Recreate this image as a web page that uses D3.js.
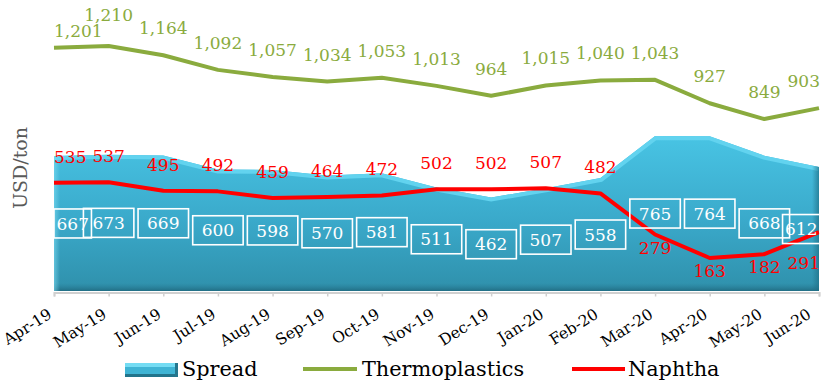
<!DOCTYPE html>
<html>
<head>
<meta charset="utf-8">
<script src="https://cdn.jsdelivr.net/npm/d3@7/dist/d3.min.js"></script>
<style>
  html, body { margin: 0; padding: 0; background: #ffffff; }
  svg { display: block; font-family: "DejaVu Serif", "Liberation Serif", serif; }
</style>
</head>
<body>
<svg id="chart" width="821" height="385"></svg>
<script>
// Monthly categories
const months = ["Apr-19", "May-19", "Jun-19", "Jul-19", "Aug-19", "Sep-19", "Oct-19", "Nov-19",
                "Dec-19", "Jan-20", "Feb-20", "Mar-20", "Apr-20", "May-20", "Jun-20"];
// USD/ton series
const spread = [667, 673, 669, 600, 598, 570, 581, 511, 462, 507, 558, 765, 764, 668, 612];
const thermoplastics = [1201, 1210, 1164, 1092, 1057, 1034, 1053, 1013, 964, 1015, 1040, 1043, 927, 849, 903];
const naphtha = [535, 537, 495, 492, 459, 464, 472, 502, 502, 507, 482, 279, 163, 182, 291];
const yAxisTitle = "USD/ton";
const legendNames = ["Spread", "Thermoplastics", "Naphtha"];

const W = 821, H = 385;
const plot = { left: 54, right: 819, top: 7.5, bottom: 291 };
const green = "#8aab3e", red = "#ff0000";

const svg = d3.select("#chart");
const defs = svg.append("defs");

const x = d3.scalePoint().domain(months).range([plot.left, plot.right]);
const y = d3.scaleLinear().domain([0, 1400]).range([plot.bottom, plot.top]);
const fmt = d3.format(",");

// Gradients for the bevelled spread area
const bodyGrad = defs.append("linearGradient").attr("id", "bodyGrad")
  .attr("x1", 0).attr("y1", 0).attr("x2", 0).attr("y2", 1);
bodyGrad.append("stop").attr("offset", "0%").attr("stop-color", "#48c4e4");
bodyGrad.append("stop").attr("offset", "55%").attr("stop-color", "#3aa9ca");
bodyGrad.append("stop").attr("offset", "100%").attr("stop-color", "#2f90ab");

const bottomGrad = defs.append("linearGradient").attr("id", "bottomGrad")
  .attr("x1", 0).attr("y1", 0).attr("x2", 0).attr("y2", 1);
bottomGrad.append("stop").attr("offset", "0%").attr("stop-color", "#2a8099").attr("stop-opacity", 0);
bottomGrad.append("stop").attr("offset", "100%").attr("stop-color", "#1f6a80").attr("stop-opacity", 0.9);

const rightGrad = defs.append("linearGradient").attr("id", "rightGrad")
  .attr("x1", 0).attr("y1", 0).attr("x2", 1).attr("y2", 0);
rightGrad.append("stop").attr("offset", "0%").attr("stop-color", "#1f6f86").attr("stop-opacity", 0);
rightGrad.append("stop").attr("offset", "100%").attr("stop-color", "#1f6f86").attr("stop-opacity", 0.7);

const leftGrad = defs.append("linearGradient").attr("id", "leftGrad")
  .attr("x1", 0).attr("y1", 0).attr("x2", 1).attr("y2", 0);
leftGrad.append("stop").attr("offset", "0%").attr("stop-color", "#7fdcf2").attr("stop-opacity", 0.6);
leftGrad.append("stop").attr("offset", "100%").attr("stop-color", "#7fdcf2").attr("stop-opacity", 0);

const area = d3.area()
  .x((d, i) => x(months[i]))
  .y0(y(0))
  .y1(d => y(d));

defs.append("clipPath").attr("id", "areaClip")
  .append("path").attr("d", area(spread));

// Spread area with bevel edges
const ag = svg.append("g");
ag.append("path").attr("d", area(spread)).attr("fill", "url(#bodyGrad)");
const bev = ag.append("g").attr("clip-path", "url(#areaClip)");
bev.append("path")
  .attr("d", d3.line().x((d, i) => x(months[i])).y(d => y(d))(spread))
  .attr("fill", "none").attr("stroke", "#62d3ef").attr("stroke-width", 8);
bev.append("rect").attr("x", plot.left).attr("y", y(0) - 8)
  .attr("width", plot.right - plot.left).attr("height", 8).attr("fill", "url(#bottomGrad)");
bev.append("rect").attr("x", plot.left).attr("y", plot.top)
  .attr("width", 6).attr("height", plot.bottom - plot.top).attr("fill", "url(#leftGrad)");
bev.append("rect").attr("x", plot.right - 7).attr("y", plot.top)
  .attr("width", 7).attr("height", plot.bottom - plot.top).attr("fill", "url(#rightGrad)");

// Category axis
const axisG = svg.append("g").attr("transform", `translate(0,${plot.bottom + 1.5})`)
  .call(d3.axisBottom(x).tickSize(4).tickFormat(""));
axisG.select(".domain").attr("stroke", "#d0d0d0").attr("stroke-width", 2);
axisG.selectAll(".tick line").attr("stroke", "#d0d0d0").attr("stroke-width", 1.5);

// Slanted month labels ending just under each tick
svg.append("g").selectAll("text").data(months).join("text")
  .attr("transform", d => `translate(${Math.min(x(d) - 1, W - 9)},${plot.bottom + 26}) rotate(-32)`)
  .attr("text-anchor", "end")
  .attr("font-size", 15.5)
  .attr("fill", "#000")
  .text(d => d);

// Y axis title
svg.append("text")
  .attr("transform", `translate(27,168) rotate(-90)`)
  .attr("text-anchor", "middle")
  .attr("font-size", 19)
  .attr("fill", "#595959")
  .text(yAxisTitle);

// Lines
const line = d3.line().x((d, i) => x(months[i])).y(d => y(d));
svg.append("path").attr("d", line(thermoplastics))
  .attr("fill", "none").attr("stroke", green).attr("stroke-width", 4).attr("stroke-linejoin", "round");
svg.append("path").attr("d", line(naphtha))
  .attr("fill", "none").attr("stroke", red).attr("stroke-width", 4).attr("stroke-linejoin", "round");

// Keep a label of the given width inside the drawing
function clampX(cx, w) {
  return Math.max(plot.left + w / 2, Math.min(W - 1 - w / 2, cx));
}

function boxesOverlap(a, b) {
  return a.x < b.x + b.width && b.x < a.x + a.width && a.y < b.y + b.height && b.y < a.y + a.height;
}

// Spread labels in white boxes at the middle of the area
const sl = svg.append("g");
const spreadBoxes = [];
spread.forEach((v, i) => {
  const cy = y(v / 2);
  const g = sl.append("g");
  const t = g.append("text").attr("font-size", 17).attr("fill", "#ffffff")
    .attr("text-anchor", "middle").attr("dy", "0.36em").attr("y", cy).text(fmt(v));
  const tw = t.node().getComputedTextLength();
  const px = x(months[i]);
  let bw = tw + 18;
  // boxes touching the plot edges are drawn tight around their text
  if (px - bw / 2 < plot.left || px + bw / 2 > W - 1) bw = tw + 5;
  const bh = 29;
  const cx = clampX(px, bw);
  t.attr("x", cx);
  g.insert("rect", "text").attr("x", cx - bw / 2).attr("y", cy - bh / 2)
    .attr("width", bw).attr("height", bh)
    .attr("fill", "none").attr("stroke", "#ffffff").attr("stroke-width", 1.6);
  spreadBoxes.push({ x: cx - bw / 2, y: cy - bh / 2, width: bw, height: bh });
});

// Line labels; a label that collides with its left neighbour is staggered upward
function lineLabels(values, color, offsetFor) {
  const g = svg.append("g").attr("font-size", 17).attr("fill", color).attr("text-anchor", "middle");
  let prev = null;
  values.forEach((v, i) => {
    const t = g.append("text").attr("y", y(v) + offsetFor(v)).text(fmt(v));
    const w = t.node().getComputedTextLength();
    t.attr("x", clampX(x(months[i]), w));
    let bb = t.node().getBBox();
    if (prev && boxesOverlap(bb, prev.node().getBBox())) {
      prev.attr("y", +prev.attr("y") + 10);
      t.attr("y", +t.attr("y") - 4);
    }
    // a label sitting on a spread box moves beneath it
    bb = t.node().getBBox();
    const hit = spreadBoxes[i];
    if (boxesOverlap(bb, hit)) t.attr("y", hit.y + hit.height + 25);
    prev = t;
  });
}

lineLabels(thermoplastics, green, () => -21);
// Naphtha labels sit above the line while it is high and below once it drops under the spread boxes
lineLabels(naphtha, red, v => (v < 300 ? 19 : -20));

// Legend
const lg = svg.append("g").attr("font-size", 20.8).attr("fill", "#000");
const sw = lg.append("g");
sw.append("rect").attr("x", 125).attr("y", 363).attr("width", 53).attr("height", 14).attr("fill", "#3fb4d4");
sw.append("rect").attr("x", 125).attr("y", 363).attr("width", 53).attr("height", 4).attr("fill", "#74dcf3");
sw.append("rect").attr("x", 125).attr("y", 374).attr("width", 53).attr("height", 3).attr("fill", "#22748b");
sw.append("rect").attr("x", 175).attr("y", 363).attr("width", 3).attr("height", 14).attr("fill", "#24768d");
lg.append("text").attr("x", 182).attr("y", 376).text(legendNames[0]);
lg.append("line").attr("x1", 303).attr("x2", 357).attr("y1", 369).attr("y2", 369)
  .attr("stroke", green).attr("stroke-width", 4);
lg.append("text").attr("x", 362).attr("y", 376).text(legendNames[1]);
lg.append("line").attr("x1", 572).attr("x2", 625).attr("y1", 369).attr("y2", 369)
  .attr("stroke", red).attr("stroke-width", 4);
lg.append("text").attr("x", 628).attr("y", 376).text(legendNames[2]);
</script>
</body>
</html>
